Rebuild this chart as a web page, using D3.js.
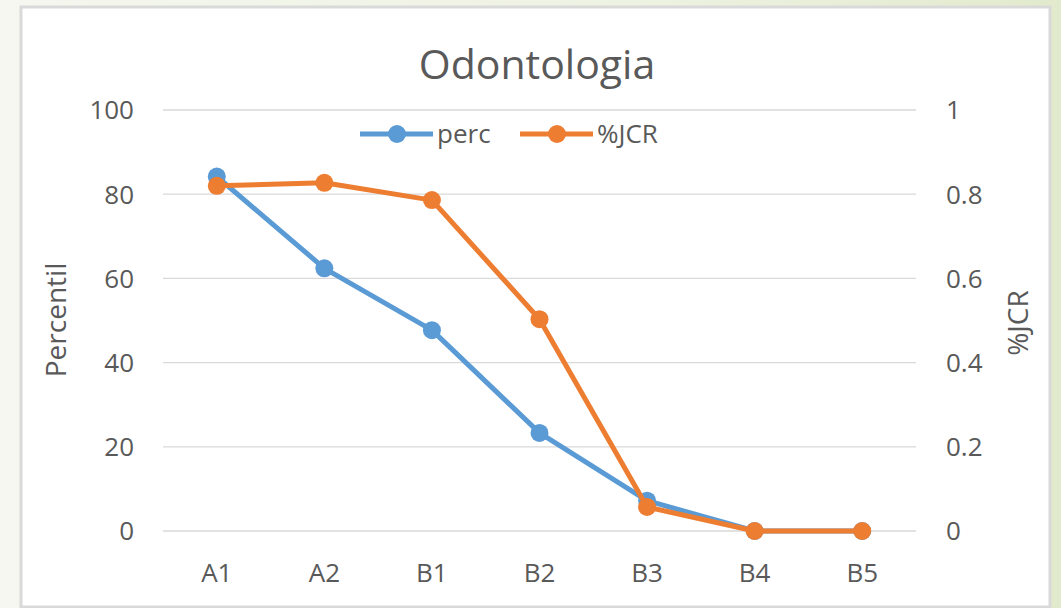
<!DOCTYPE html>
<html>
<head>
<meta charset="utf-8">
<script src="https://cdn.jsdelivr.net/npm/d3@7"></script>
<style>
  body { margin: 0; background: linear-gradient(90deg, #f5f7f0 0%, #eef2e2 60%, #e2eacd 100%); }
  svg { display: block; }
  text { font-family: "Open Sans", "Noto Sans", sans-serif; fill: #595959; }
</style>
</head>
<body>
<svg id="chart" width="1061" height="608"></svg>
<script>
var categories = ["A1", "A2", "B1", "B2", "B3", "B4", "B5"];
var percValues = [84.2, 62.4, 47.7, 23.3, 7.2, 0, 0];
var jcrValues = [0.82, 0.827, 0.786, 0.503, 0.057, 0, 0];
var leftTicks = [0, 20, 40, 60, 80, 100];
var rightTicks = [0, 0.2, 0.4, 0.6, 0.8, 1];

var blue = '#5b9bd5', orange = '#ed7d31';

const svg = d3.select('svg#chart')

// chart frame
svg.append('rect')
  .attr('x', 21).attr('y', 7)
  .attr('width', 1029).attr('height', 600)
  .attr('fill', '#fff')
  .attr('stroke', '#d9d9d9')
  .attr('stroke-width', 3)

const x = d3.scaleBand().domain(categories).range([163, 916])
const yL = d3.scaleLinear().domain([0, 100]).range([531, 110])
const yR = d3.scaleLinear().domain([0, 1]).range([531, 110])

// gridlines
svg.append('g')
  .selectAll('line')
  .data(leftTicks)
  .enter().append('line')
  .attr('x1', 163).attr('x2', 916)
  .attr('y1', d => yL(d)).attr('y2', d => yL(d))
  .attr('stroke', '#d9d9d9')
  .attr('stroke-width', 1.3)

// left axis labels
svg.append('g')
  .selectAll('text')
  .data(leftTicks)
  .enter().append('text')
  .attr('x', 134)
  .attr('y', d => yL(d))
  .attr('dy', '0.36em')
  .attr('text-anchor', 'end')
  .style('font-size', '26px')
  .text(d => d)

// right axis labels
svg.append('g')
  .selectAll('text')
  .data(rightTicks)
  .enter().append('text')
  .attr('x', 946)
  .attr('y', d => yR(d))
  .attr('dy', '0.36em')
  .attr('text-anchor', 'start')
  .style('font-size', '26px')
  .text(d => d)

// category labels
svg.append('g')
  .selectAll('text')
  .data(categories)
  .enter().append('text')
  .attr('x', d => x(d) + x.bandwidth() / 2)
  .attr('y', 573)
  .attr('dy', '0.36em')
  .attr('text-anchor', 'middle')
  .style('font-size', '26px')
  .text(d => d)

// title
svg.append('text')
  .attr('x', 537).attr('y', 64)
  .attr('dy', '0.36em')
  .attr('text-anchor', 'middle')
  .style('font-size', '41px')
  .text('Odontologia')

// axis titles
svg.append('text')
  .attr('transform', 'translate(56,320) rotate(-90)')
  .attr('dy', '0.36em')
  .attr('text-anchor', 'middle')
  .style('font-size', '28px')
  .text('Percentil')

svg.append('text')
  .attr('transform', 'translate(1018,323) rotate(-90)')
  .attr('dy', '0.36em')
  .attr('text-anchor', 'middle')
  .style('font-size', '28px')
  .text('%JCR')

const cx = d => x(d) + x.bandwidth() / 2

function drawSeries(values, scale, color) {
  const pts = values.map((v, i) => [cx(categories[i]), scale(v)])
  svg.append('path')
    .attr('d', d3.line()(pts))
    .attr('fill', 'none')
    .attr('stroke', color)
    .attr('stroke-width', 5)
    .attr('stroke-linejoin', 'round')
  svg.append('g')
    .selectAll('circle')
    .data(pts)
    .enter().append('circle')
    .attr('cx', d => d[0]).attr('cy', d => d[1])
    .attr('r', 9)
    .attr('fill', color)
}

drawSeries(percValues, yL, blue)
drawSeries(jcrValues, yR, orange)

// legend
const legend = [{ name: 'perc', color: blue, x: 360 }, { name: '%JCR', color: orange, x: 520 }]
const lg = svg.append('g').selectAll('g').data(legend).enter().append('g')
lg.append('line')
  .attr('x1', d => d.x).attr('x2', d => d.x + 73)
  .attr('y1', 134).attr('y2', 134)
  .attr('stroke', d => d.color).attr('stroke-width', 5)
lg.append('circle')
  .attr('cx', d => d.x + 37).attr('cy', 134).attr('r', 9)
  .attr('fill', d => d.color)
lg.append('text')
  .attr('x', d => d.x + 77).attr('y', 134)
  .attr('dy', '0.36em')
  .style('font-size', '26px')
  .text(d => d.name)
</script>
</body>
</html>
